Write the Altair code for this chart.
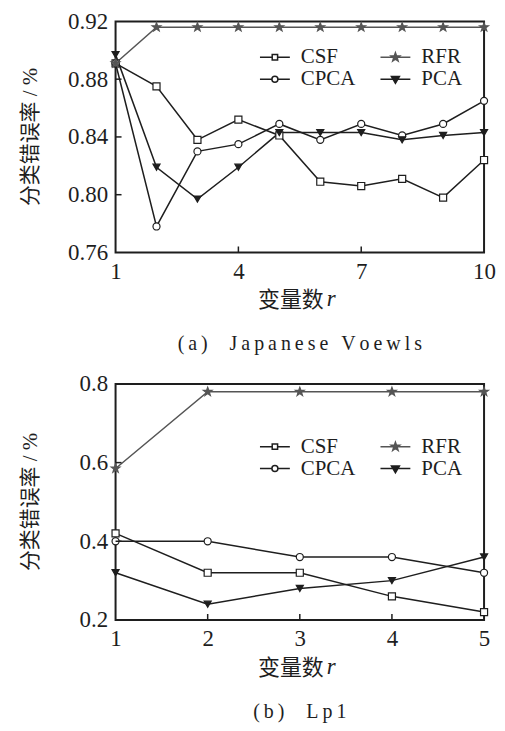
import math
import altair as alt
import pandas as pd

# ---------------- data ----------------
SERIES = ["CSF", "CPCA", "RFR", "PCA"]   # legend order (column-major, 2 columns)

r_a = [1, 2, 3, 4, 5, 6, 7, 8, 9, 10]
csf_a = [0.891, 0.875, 0.838, 0.852, 0.841, 0.809, 0.806, 0.811, 0.798, 0.824]
cpca_a = [0.891, 0.778, 0.830, 0.835, 0.849, 0.838, 0.849, 0.841, 0.849, 0.865]
rfr_a = [0.891, 0.916, 0.916, 0.916, 0.916, 0.916, 0.916, 0.916, 0.916, 0.916]
pca_a = [0.897, 0.819, 0.797, 0.819, 0.843, 0.843, 0.843, 0.838, 0.841, 0.843]
xticks_a = [1, 4, 7, 10]
yticks_a = [0.76, 0.80, 0.84, 0.88, 0.92]
caption_a = "(a)  Japanese Voewls"

r_b = [1, 2, 3, 4, 5]
csf_b = [0.42, 0.32, 0.32, 0.26, 0.22]
cpca_b = [0.40, 0.40, 0.36, 0.36, 0.32]
rfr_b = [0.585, 0.78, 0.78, 0.78, 0.78]
pca_b = [0.32, 0.24, 0.28, 0.30, 0.36]
xticks_b = [1, 2, 3, 4, 5]
yticks_b = [0.2, 0.4, 0.6, 0.8]
caption_b = "(b)  Lp1"

y_title = "分类错误率 / %"
x_title = "变量数"
x_title_var = "r"

# ---------------- style ----------------
BLACK = "#1e1e1e"
GRAY = "#555555"
FONT = "Liberation Serif"
CJK = "Liberation Serif, Noto Sans CJK SC"
W = 370
H_TOP, H_BOT = 232, 237


def star(R, r):
    pts = []
    for k in range(10):
        rad = R if k % 2 == 0 else r
        a = math.radians(-90 + 36 * k)
        pts.append((rad * math.cos(a), rad * math.sin(a)))
    return "M" + "L".join(f"{x:.3f},{y:.3f}" for x, y in pts) + "Z"


# order follows SERIES: CSF, CPCA, RFR, PCA
SHAPES = ["square", "circle", star(1.3, 0.52), "triangle-down"]
# legend symbols: unit box scaled by 10px; line spans +-15px
LEG_SHAPES = [
    "M-1.5,0H-0.27M0.27,0H1.5M-0.27,-0.27H0.27V0.27H-0.27Z",
    "M-1.5,0H-0.3M0.3,0H1.5M-0.3,0A0.3,0.3 0 1,0 0.3,0A0.3,0.3 0 1,0 -0.3,0Z",
    "M-1.5,0H1.5" + star(0.45, 0.18),
    "M-1.5,0H1.5M-0.4,-0.27L0.4,-0.27L0,0.42Z",
]
FILLS = ["white", "white", GRAY, BLACK]
STROKES = [BLACK, BLACK, GRAY, BLACK]


def spaced(s):
    return "\u2009".join(s)


def panel(r, vals, xticks, yticks, yfmt, caption, leg_y, H):
    rows = []
    for s, v in zip(SERIES, vals):
        for xi, yi in zip(r, v):
            rows.append({"r": xi, "v": yi, "s": s})
    df = pd.DataFrame(rows)

    xs = alt.Scale(domain=[xticks[0], xticks[-1]], nice=False, zero=False)
    ys = alt.Scale(domain=[yticks[0], yticks[-1]], nice=False, zero=False)
    xaxis = alt.Axis(values=xticks, title=None, ticks=False, domain=False, grid=False,
                     labelFont=FONT, labelFontSize=23, labelColor=BLACK, labelPadding=8,
                     labelFlush=False, labelOverlap=False, format="d")
    yaxis = alt.Axis(values=yticks, format=yfmt, title=None,
                     labelFont=FONT, labelFontSize=23, labelColor=BLACK,
                     labelPadding=8, labelFlush=False, labelOverlap=False,
                     ticks=False, domain=False, grid=False)
    base = alt.Chart(df).encode(
        x=alt.X("r:Q", scale=xs, axis=xaxis),
        y=alt.Y("v:Q", scale=ys, axis=yaxis),
    )
    lines = base.mark_line(strokeWidth=1.5).encode(
        stroke=alt.Stroke("s:N", scale=alt.Scale(domain=SERIES, range=STROKES), legend=None)
    )
    points = base.mark_point(filled=True, opacity=1, size=50, strokeWidth=1.2).encode(
        shape=alt.Shape("s:N", scale=alt.Scale(domain=SERIES, range=SHAPES), legend=None),
        fill=alt.Fill("s:N", scale=alt.Scale(domain=SERIES, range=FILLS), legend=None),
        stroke=alt.Stroke("s:N", scale=alt.Scale(domain=SERIES, range=STROKES), legend=None),
    )
    leg = alt.Legend(title=None, orient="none", legendX=149, legendY=leg_y, columns=2,
                     symbolSize=400, symbolStrokeWidth=1.5, symbolOpacity=1,
                     labelFont=FONT, labelFontSize=21, labelColor=BLACK, labelOffset=15,
                     columnPadding=22, rowPadding=1, padding=0)
    legl = base.mark_point(filled=True, opacity=1, strokeWidth=1.5).encode(
        shape=alt.Shape("s:N", scale=alt.Scale(domain=SERIES, range=LEG_SHAPES), legend=leg),
        fill=alt.Fill("s:N", scale=alt.Scale(domain=SERIES, range=FILLS), legend=leg),
        stroke=alt.Stroke("s:N", scale=alt.Scale(domain=SERIES, range=STROKES), legend=leg),
    ).transform_filter("false")

    xt = alt.Chart(pd.DataFrame({"r": xticks[1:-1]})).mark_rule(
        color=BLACK, strokeWidth=1.5).encode(
        x=alt.X("r:Q", scale=xs, axis=xaxis), y=alt.value(H), y2=alt.value(H - 6))
    yt = alt.Chart(pd.DataFrame({"v": yticks[1:-1]})).mark_rule(
        color=BLACK, strokeWidth=1.5).encode(
        y=alt.Y("v:Q", scale=ys, axis=yaxis), x=alt.value(0), x2=alt.value(6))

    one = pd.DataFrame({"k": [0]})
    t1 = alt.Chart(one).mark_text(text=x_title, font=CJK, fontSize=22, align="right",
                                  baseline="middle", color=BLACK).encode(
        x=alt.value(W / 2 + 24), y=alt.value(H + 48))
    t2 = alt.Chart(one).mark_text(text=x_title_var, font=FONT, fontStyle="italic",
                                  fontSize=23, align="left", baseline="middle",
                                  color=BLACK).encode(
        x=alt.value(W / 2 + 27), y=alt.value(H + 47))
    ty = alt.Chart(one).mark_text(text=y_title, font=CJK, fontSize=21, angle=270,
                                  align="center", baseline="middle",
                                  color=BLACK).encode(
        x=alt.value(-85), y=alt.value(H / 2))

    return alt.layer(lines, points, legl, xt, yt, t1, t2, ty).resolve_scale(
        shape="independent", fill="independent", stroke="independent"
    ).properties(
        width=W, height=H,
        title=alt.TitleParams(spaced(caption), orient="bottom", frame="group",
                              anchor="middle", font=FONT, fontSize=20,
                              fontWeight="normal", color=BLACK, offset=23),
    )


top = panel(r_a, [csf_a, cpca_a, rfr_a, pca_a], xticks_a, yticks_a, ".2f", caption_a,
            25, H_TOP)
bottom = panel(r_b, [csf_b, cpca_b, rfr_b, pca_b], xticks_b, yticks_b, ".1f", caption_b,
               52, H_BOT)

chart = alt.vconcat(top, bottom, spacing=17).properties(
    padding={"left": 11, "top": 0, "right": 0, "bottom": 0}
).configure_view(stroke=BLACK, strokeWidth=2)

chart.save("out.html", embed_options={"renderer": "svg", "actions": False})
